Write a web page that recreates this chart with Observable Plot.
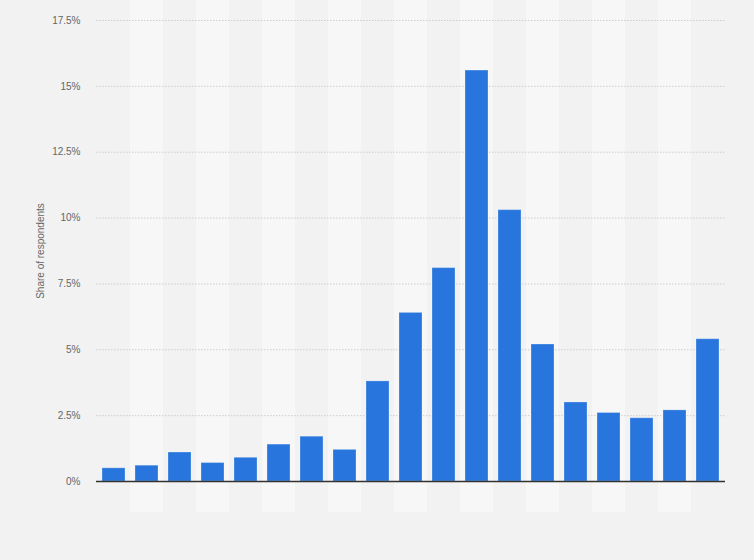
<!DOCTYPE html>
<html><head><meta charset="utf-8">
<script src="https://cdn.jsdelivr.net/npm/d3@7"></script>
<script src="https://cdn.jsdelivr.net/npm/@observablehq/plot@0.6"></script>
<style>
html,body{margin:0;padding:0;background:#f2f2f2;}
#chart{width:754px;height:560px;}
</style></head><body><div id="chart"></div>
<script>
const categories = ["1","2","3","4","5","6","7","8","9","10","11","12","13","14","15","16","17","18","19"];
const values = [0.5,0.6,1.1,0.7,0.9,1.4,1.7,1.2,3.8,6.4,8.1,15.6,10.3,5.2,3.0,2.6,2.4,2.7,5.4];
const yTicks = [0,2.5,5,7.5,10,12.5,15,17.5];
const yTickLabels = ["0%","2.5%","5%","7.5%","10%","12.5%","15%","17.5%"];
const yTitle = "Share of respondents";

const data = categories.map((c,i)=>({category:c, value:values[i]}));
const stripes = categories.filter((c,i)=>i%2===1);

const chart = Plot.plot({
  width:754, height:560,
  marginLeft:96, marginRight:29, marginTop:20, marginBottom:79,
  style:{background:"#f2f2f2", fontFamily:"'Liberation Sans', Arial, sans-serif", fontSize:"10px", color:"#666"},
  x:{domain:categories, padding:0, axis:null},
  y:{domain:[0,17.5], label:null},
  marks:[
    Plot.barY(stripes, {x:d=>d, y1:0, y2:17.5, fill:"#f7f7f7", insetTop:-20, insetBottom:-31}),
    Plot.ruleY(yTicks.filter(d=>d>0), {stroke:"#cdcdcd", strokeDasharray:"1.5,1.5", strokeWidth:1}),
    Plot.barY(data, {x:"category", y:"value", fill:"#2876dd", insetLeft:5, insetRight:5, stroke:"#ffffff", strokeOpacity:0.25, strokeWidth:1}),
    Plot.ruleY([0], {stroke:"#333", strokeWidth:1.5}),
    Plot.axisY({ticks:yTicks, tickFormat:d=>yTickLabels[yTicks.indexOf(d)], tickSize:0, tickPadding:16, label:null, fill:"#666", fontSize:10}),
    Plot.text([yTitle], {frameAnchor:"left", textAnchor:"middle", dx:-56, rotate:-90, fill:"#666", fontSize:10})
  ]
});
document.getElementById("chart").appendChild(chart);
</script>
</body></html>
